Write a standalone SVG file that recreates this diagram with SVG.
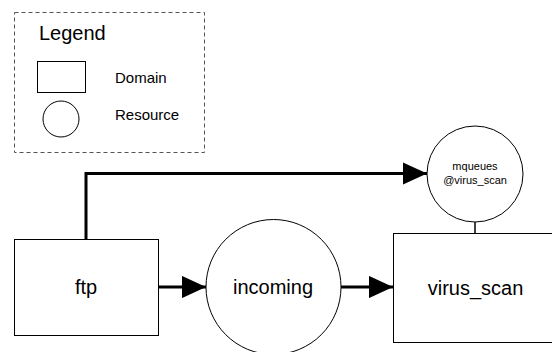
<svg xmlns="http://www.w3.org/2000/svg" width="552" height="352" viewBox="0 0 552 352">
  <style>
    .shape { fill: #ffffff; stroke: #000000; stroke-width: 1; }
    .edge { fill: none; stroke: #000000; stroke-width: 3; }
    .label { font-family: "Liberation Sans", Arial, sans-serif; fill: #000000; }
    .big { font-size: 20px; text-anchor: middle; }
    .small { font-size: 11px; text-anchor: middle; }
    .key { font-size: 15px; }
  </style>
  <defs>
    <marker id="arrow" markerWidth="8" markerHeight="7.4" refX="8" refY="3.7" orient="auto" markerUnits="strokeWidth">
      <path d="M0,0 L8,3.7 L0,7.4 Z" fill="#000000"/>
    </marker>
  </defs>
  <rect width="552" height="352" fill="#ffffff"/>

  <g id="legend">
    <rect x="14.5" y="12.5" width="190" height="140" fill="none" stroke="#555555" stroke-width="1" stroke-dasharray="4,3"/>
    <text class="label" x="39" y="40" font-size="20">Legend</text>
    <rect class="shape" x="37.5" y="61.5" width="48" height="31"/>
    <text class="label key" x="115" y="83">Domain</text>
    <circle class="shape" cx="61" cy="119" r="18"/>
    <text class="label key" x="115" y="120">Resource</text>
  </g>

  <g id="connectors">
    <polyline class="edge" points="86,239 86,173.5 427,173.5" marker-end="url(#arrow)"/>
    <line class="edge" x1="158" y1="287" x2="206" y2="287" marker-end="url(#arrow)"/>
    <line class="edge" x1="341" y1="287" x2="393" y2="287" marker-end="url(#arrow)"/>
    <line x1="475" y1="222" x2="475" y2="233" stroke="#000000" stroke-width="1.5"/>
  </g>

  <g id="ftp">
    <rect class="shape" x="14.5" y="239.5" width="144" height="96"/>
    <text class="label big" x="86" y="294">ftp</text>
  </g>

  <g id="incoming">
    <circle class="shape" cx="273.5" cy="287" r="67.5"/>
    <text class="label big" x="273" y="294">incoming</text>
  </g>

  <g id="virus_scan">
    <rect class="shape" x="393.5" y="233.5" width="170" height="109"/>
    <text class="label big" x="475.5" y="295" font-size="21.5">virus_scan</text>
  </g>

  <g id="mqueues">
    <circle class="shape" cx="475" cy="174" r="48"/>
    <text class="label small" x="475" y="170">mqueues</text>
    <text class="label small" x="475" y="184">@virus_scan</text>
  </g>
</svg>
